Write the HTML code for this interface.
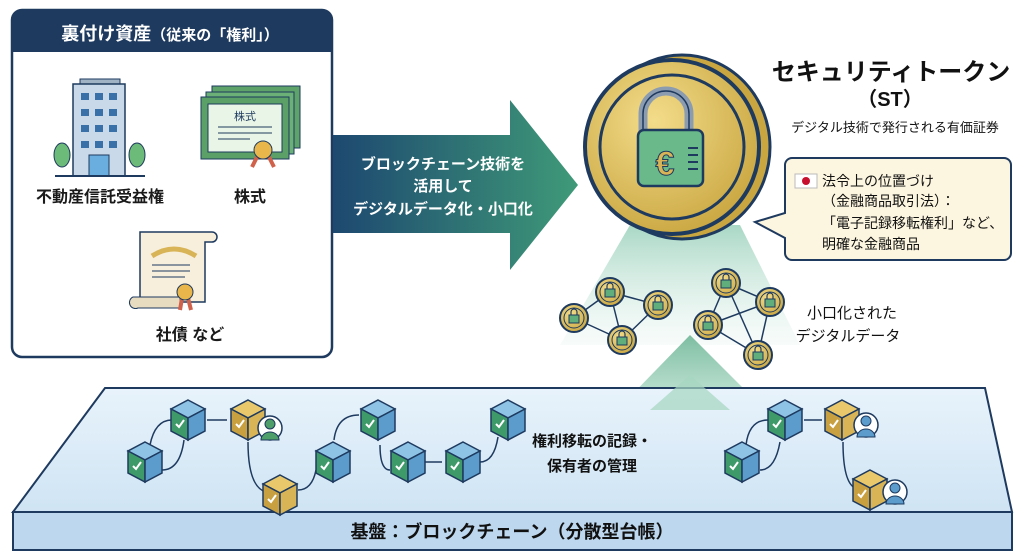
<!DOCTYPE html>
<html><head><meta charset="utf-8"><style>
html,body{margin:0;padding:0;background:#fff;}
svg{display:block;font-family:"Liberation Sans","Noto Sans CJK JP",sans-serif;}
</style></head><body>
<svg width="1024" height="559" viewBox="0 0 1024 559" xmlns="http://www.w3.org/2000/svg">
<defs>
<linearGradient id="arr" x1="0" x2="1" y1="0" y2="0"><stop offset="0" stop-color="#1d4870"/><stop offset="1" stop-color="#3f9a78"/></linearGradient>
<linearGradient id="beam" x1="0" x2="0" y1="0" y2="1"><stop offset="0" stop-color="#9fd3bf" stop-opacity="0.9"/><stop offset="1" stop-color="#e6f4ee" stop-opacity="0.3"/></linearGradient>
<linearGradient id="tri" x1="0" x2="0" y1="0" y2="1"><stop offset="0" stop-color="#5fae8c"/><stop offset="1" stop-color="#b9e0cf"/></linearGradient>
<radialGradient id="gold" cx="0.4" cy="0.35" r="0.7"><stop offset="0" stop-color="#f3dc8a"/><stop offset="1" stop-color="#c9a640"/></radialGradient>
<linearGradient id="plat" x1="0" x2="0" y1="0" y2="1"><stop offset="0" stop-color="#e8f3fb"/><stop offset="1" stop-color="#cfe4f4"/></linearGradient>
<g id="cb"><polygon points="0,-20 17,-11 0,-2 -17,-11" fill="#8ec3e6" stroke="#1e3a5f" stroke-width="1.5"/><polygon points="-17,-11 0,-2 0,20 -17,11" fill="#3f9a6a" stroke="#1e3a5f" stroke-width="1.5"/><polygon points="17,-11 0,-2 0,20 17,11" fill="#5b9ccc" stroke="#1e3a5f" stroke-width="1.5"/><path d="M-12,4 l3,3 l5,-7" stroke="#fff" stroke-width="2" fill="none"/></g>
<g id="cg"><polygon points="0,-20 17,-11 0,-2 -17,-11" fill="#e8c86a" stroke="#1e3a5f" stroke-width="1.5"/><polygon points="-17,-11 0,-2 0,20 -17,11" fill="#c9a040" stroke="#1e3a5f" stroke-width="1.5"/><polygon points="17,-11 0,-2 0,20 17,11" fill="#d8b456" stroke="#1e3a5f" stroke-width="1.5"/><path d="M-12,4 l3,3 l5,-7" stroke="#fff" stroke-width="2" fill="none"/></g>
<g id="mc"><circle r="14" fill="url(#gold)" stroke="#1e3a5f" stroke-width="2"/><circle r="10" fill="none" stroke="#1e3a5f" stroke-width="1"/><rect x="-5" y="-3" width="10" height="8" fill="#5fae7c" stroke="#1e3a5f"/><path d="M-3,-3 v-3 a3,3 0 0 1 6,0 v3" fill="none" stroke="#1e3a5f" stroke-width="1.2"/></g>
</defs>

<rect x="12" y="10" width="320" height="347" rx="10" fill="#fff" stroke="#1e3a5f" stroke-width="2.5"/>
<path d="M12,52 V20 a10,10 0 0 1 10,-10 H322 a10,10 0 0 1 10,10 V52 Z" fill="#1e3a5f"/>
<text x="170" y="40" fill="#fff" font-size="18" font-weight="bold" text-anchor="middle">裏付け資産<tspan font-size="15">（従来の「権利」）</tspan></text>
<rect x="80" y="79" width="40" height="5" fill="#9fb3c5" stroke="#1e3a5f"/>
<rect x="73" y="84" width="52" height="92" fill="#c9d9ea" stroke="#1e3a5f" stroke-width="1.5"/>
<g fill="#3a70a8"><rect x="81" y="93" width="8" height="7"/><rect x="95" y="93" width="8" height="7"/><rect x="109" y="93" width="8" height="7"/><rect x="81" y="109" width="8" height="7"/><rect x="95" y="109" width="8" height="7"/><rect x="109" y="109" width="8" height="7"/><rect x="81" y="125" width="8" height="7"/><rect x="95" y="125" width="8" height="7"/><rect x="109" y="125" width="8" height="7"/><rect x="81" y="141" width="8" height="7"/><rect x="95" y="141" width="8" height="7"/><rect x="109" y="141" width="8" height="7"/></g>
<rect x="89" y="155" width="20" height="21" fill="#6aaee0" stroke="#1e3a5f"/>
<ellipse cx="62" cy="155" rx="8" ry="12" fill="#6dbb79" stroke="#1e3a5f"/><ellipse cx="137" cy="155" rx="8" ry="12" fill="#6dbb79" stroke="#1e3a5f"/>
<line x1="55" y1="176" x2="145" y2="176" stroke="#1e3a5f" stroke-width="2"/>
<text x="100" y="202" font-size="16" font-weight="bold" text-anchor="middle" fill="#1a1a1a">不動産信託受益権</text>
<rect x="212" y="86" width="88" height="62" fill="#5da36a" stroke="#1e3a5f"/>
<rect x="206" y="92" width="88" height="62" fill="#6bb077" stroke="#1e3a5f"/>
<rect x="201" y="97" width="88" height="62" fill="#5aa067" stroke="#1e3a5f"/>
<rect x="208" y="104" width="74" height="48" fill="#e9f5e6" stroke="#1e3a5f"/>
<text x="245" y="120" font-size="11" text-anchor="middle" fill="#1e3a5f">株式</text>
<line x1="218" y1="127" x2="272" y2="127" stroke="#1e3a5f"/><line x1="218" y1="133" x2="272" y2="133" stroke="#1e3a5f"/><line x1="218" y1="139" x2="250" y2="139" stroke="#1e3a5f"/>
<path d="M258,155 l-6,12 M268,155 l6,12" stroke="#d0614a" stroke-width="4"/>
<circle cx="263" cy="150" r="9" fill="#e8b64a" stroke="#1e3a5f"/>
<text x="250" y="202" font-size="16" font-weight="bold" text-anchor="middle" fill="#1a1a1a">株式</text>
<path d="M145,232 H212 a5,5 0 0 1 0,10 H205 V302 H140 V232 Z" fill="#f7eedc" stroke="#1e3a5f" stroke-width="1.5"/>
<path d="M133,297 H180 V308 H138 a5,5 0 0 1 -5,-11Z" fill="#e8dcc0" stroke="#1e3a5f"/>
<path d="M152,256 q22,-14 44,0" stroke="#d8b456" stroke-width="5" fill="none"/>
<line x1="152" y1="265" x2="190" y2="265" stroke="#1e3a5f"/><line x1="152" y1="271" x2="190" y2="271" stroke="#1e3a5f"/><line x1="152" y1="277" x2="185" y2="277" stroke="#1e3a5f"/>
<path d="M182,298 l-2,12 M188,298 l3,12" stroke="#d0614a" stroke-width="4"/>
<circle cx="185" cy="292" r="8" fill="#e8b64a" stroke="#1e3a5f"/>
<text x="190" y="340" font-size="16" font-weight="bold" text-anchor="middle" fill="#1a1a1a">社債 など</text>

<polygon points="333,135 510,135 510,100 578,185 510,270 510,233 333,233" fill="url(#arr)"/>
<g fill="#fff" font-size="15" font-weight="bold" text-anchor="middle"><text x="443" y="169">ブロックチェーン技術を</text><text x="443" y="191">活用して</text><text x="443" y="214">デジタルデータ化・小口化</text></g>

<polygon points="630,225 740,225 800,345 560,345" fill="url(#beam)"/>
<polygon points="690,335 760,405 622,405" fill="url(#tri)" opacity="0.8"/>

<ellipse cx="682" cy="147" rx="88" ry="92" fill="#c9a640" stroke="#1e3a5f" stroke-width="3"/>
<circle cx="672" cy="147" r="87" fill="url(#gold)" stroke="#1e3a5f" stroke-width="4"/>
<circle cx="672" cy="147" r="72" fill="none" stroke="#1e3a5f" stroke-width="3"/>
<path d="M643,132 v-18 a23,23 0 0 1 46,0 v18" fill="none" stroke="#8b9bb0" stroke-width="9"/>
<path d="M643,132 v-18 a23,23 0 0 1 46,0 v18" fill="none" stroke="#1e3a5f" stroke-width="1.5"/>
<rect x="638" y="130" width="65" height="56" rx="6" fill="#6ab98a" stroke="#1e3a5f" stroke-width="2.5"/>
<text x="665" y="175" font-size="34" font-weight="bold" text-anchor="middle" fill="#d8b456" stroke="#1e3a5f" stroke-width="1">€</text>
<g stroke="#1e3a5f" stroke-width="2"><line x1="688" y1="148" x2="698" y2="148"/><line x1="688" y1="155" x2="698" y2="155"/><line x1="688" y1="162" x2="698" y2="162"/><line x1="688" y1="169" x2="698" y2="169"/></g>

<text x="891" y="80" font-size="24" font-weight="bold" text-anchor="middle" fill="#111">セキュリティトークン</text>
<text x="890" y="106" font-size="20" font-weight="bold" text-anchor="middle" fill="#111">（ST）</text>
<text x="895" y="132" font-size="13" text-anchor="middle" fill="#111">デジタル技術で発行される有価証券</text>

<path d="M792,158 H1004 a7,7 0 0 1 7,7 V253 a7,7 0 0 1 -7,7 H792 a7,7 0 0 1 -7,-7 V238 L755,222 L785,213 V165 a7,7 0 0 1 7,-7Z" fill="#fcf5df" stroke="#1e3a5f" stroke-width="2"/>
<rect x="795" y="174" width="22" height="14" fill="#fff" stroke="#bbb"/><circle cx="806" cy="181" r="4" fill="#c8102e"/>
<g font-size="14" fill="#111"><text x="822" y="186">法令上の位置づけ</text><text x="822" y="206">（金融商品取引法）：</text><text x="822" y="228">「電子記録移転権利」など、</text><text x="822" y="249">明確な金融商品</text></g>

<g stroke="#1e3a5f" stroke-width="1.5"><line x1="574" y1="318" x2="610" y2="292"/><line x1="610" y1="292" x2="658" y2="305"/><line x1="574" y1="318" x2="622" y2="340"/><line x1="622" y1="340" x2="658" y2="305"/><line x1="610" y1="292" x2="622" y2="340"/>
<line x1="726" y1="283" x2="770" y2="302"/><line x1="726" y1="283" x2="708" y2="325"/><line x1="708" y1="325" x2="758" y2="355"/><line x1="770" y1="302" x2="758" y2="355"/><line x1="726" y1="283" x2="758" y2="355"/><line x1="708" y1="325" x2="770" y2="302"/></g>
<use href="#mc" x="574" y="318"/><use href="#mc" x="610" y="292"/><use href="#mc" x="658" y="305"/><use href="#mc" x="622" y="340"/>
<use href="#mc" x="726" y="283"/><use href="#mc" x="770" y="302"/><use href="#mc" x="708" y="325"/><use href="#mc" x="758" y="355"/>
<g font-size="15" fill="#111" text-anchor="middle"><text x="852" y="318">小口化された</text><text x="848" y="341">デジタルデータ</text></g>

<polygon points="105,388 985,388 1012,512 13,512" fill="url(#plat)" stroke="#1e3a5f" stroke-width="2"/>
<rect x="13" y="512" width="999" height="38" fill="#bcd7ee" stroke="#1e3a5f" stroke-width="2"/>
<text x="512" y="538" font-size="18" font-weight="bold" text-anchor="middle" fill="#111">基盤：ブロックチェーン（分散型台帳）</text>
<polygon points="650,410 690,375 730,410" fill="#a5d6c0" opacity="0.7"/>

<g stroke="#1e3a5f" stroke-width="1.5" fill="none"><path d="M162,470 q18,0 22,-30"/><path d="M150,445 q5,-25 22,-25"/><path d="M207,420 h20"/><path d="M248,442 q0,45 18,50"/><path d="M298,490 q14,0 18,-20"/><path d="M334,440 q3,-25 25,-25"/><path d="M380,445 q0,25 10,25"/><path d="M424,462 h18"/><path d="M480,462 q14,0 18,-25"/><path d="M760,470 q15,0 20,-28"/><path d="M746,445 q3,-25 22,-25"/><path d="M804,420 h18"/><path d="M843,442 q0,40 12,46"/></g>
<use href="#cb" x="145" y="462"/><use href="#cb" x="188" y="420"/><use href="#cg" x="248" y="420"/>
<circle cx="270" cy="428" r="12" fill="#fff" stroke="#1e3a5f" stroke-width="1.5"/><circle cx="270" cy="424" r="5" fill="#4f9f6a" stroke="#1e3a5f"/><path d="M261,440 a9,8 0 0 1 18,0Z" fill="#4f9f6a" stroke="#1e3a5f"/>
<use href="#cg" x="280" y="495"/><use href="#cb" x="333" y="462"/><use href="#cb" x="378" y="420"/><use href="#cb" x="408" y="462"/><use href="#cb" x="463" y="462"/><use href="#cb" x="508" y="420"/>
<g font-size="15" font-weight="bold" fill="#111" text-anchor="middle"><text x="592" y="446">権利移転の記録・</text><text x="592" y="471">保有者の管理</text></g>
<use href="#cb" x="742" y="462"/><use href="#cb" x="785" y="420"/><use href="#cg" x="842" y="420"/>
<circle cx="866" cy="425" r="12" fill="#fff" stroke="#1e3a5f" stroke-width="1.5"/><circle cx="866" cy="421" r="5" fill="#5b9ccc" stroke="#1e3a5f"/><path d="M857,437 a9,8 0 0 1 18,0Z" fill="#5b9ccc" stroke="#1e3a5f"/>
<use href="#cg" x="870" y="490"/>
<circle cx="895" cy="492" r="12" fill="#fff" stroke="#1e3a5f" stroke-width="1.5"/><circle cx="895" cy="488" r="5" fill="#5b9ccc" stroke="#1e3a5f"/><path d="M886,504 a9,8 0 0 1 18,0Z" fill="#5b9ccc" stroke="#1e3a5f"/>
</svg>
</body></html>
